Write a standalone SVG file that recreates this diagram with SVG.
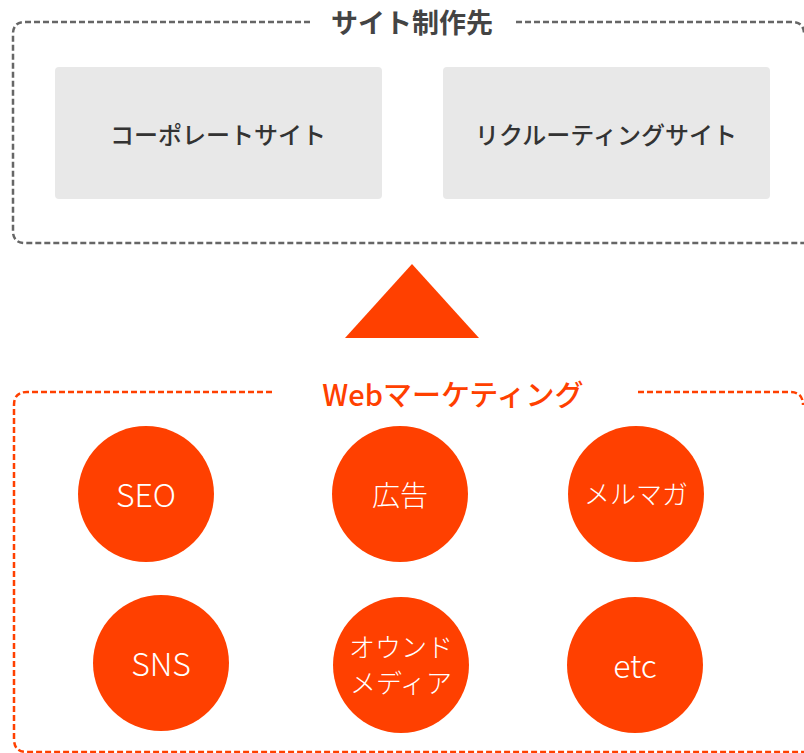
<svg xmlns="http://www.w3.org/2000/svg" width="804" height="753" viewBox="0 0 804 753">
<style>
text{font-family:"Noto Sans CJK JP","Noto Sans",sans-serif;text-anchor:middle;dominant-baseline:central}
.frame-gray{fill:none;stroke:#666;stroke-width:2.5;stroke-dasharray:6 3}
.frame-orange{fill:none;stroke:#ff4000;stroke-width:2.5;stroke-dasharray:6 3}
.gbox{fill:#e8e8e8}
.gtxt{font-size:24px;font-weight:500;fill:#333}
.circ{fill:#ff4000}
.ctxt{font-size:32px;font-weight:300;fill:#fff}
.ctxtj{font-size:28px;font-weight:300;fill:#fff}
.ctxt2{font-size:26px;font-weight:300;fill:#fff}
</style>
<g id="site-frame">
<path class="frame-gray" d="M310 22 H25 Q13 22 13 34 V231 Q13 243 25 243 H804"/>
<path class="frame-gray" d="M516 22 H792 Q804 22 804 34"/>
<text x="412" y="21" font-size="27" font-weight="bold" fill="#444">サイト制作先</text>
</g>
<g id="corporate">
<rect class="gbox" x="55" y="67" width="327" height="132" rx="4"/>
<text class="gtxt" x="218" y="133">コーポレートサイト</text>
</g>
<g id="recruiting">
<rect class="gbox" x="443" y="67" width="327" height="132" rx="4"/>
<text class="gtxt" x="606" y="133">リクルーティングサイト</text>
</g>
<g id="connectors">
<polygon points="345,338 479,338 412,264" fill="#ff4000"/>
</g>
<g id="web-frame">
<path class="frame-orange" d="M272 392 H27 Q14 392 14 405 V739 Q14 752 27 752 H804"/>
<path class="frame-orange" d="M638 392 H790 Q803 392 803 405"/>
<text x="453" y="393" font-size="29" font-weight="500" fill="#ff4000">Webマーケティング</text>
</g>
<g id="seo"><circle class="circ" cx="146" cy="494" r="68"/><text class="ctxt" x="146" y="493">SEO</text></g>
<g id="ad"><circle class="circ" cx="400" cy="494" r="68"/><text class="ctxtj" x="400" y="494">広告</text></g>
<g id="mailmag"><circle class="circ" cx="636" cy="494" r="68"/><text class="ctxt2" x="636" y="492">メルマガ</text></g>
<g id="sns"><circle class="circ" cx="161" cy="663" r="68"/><text class="ctxt" x="161" y="662">SNS</text></g>
<g id="owned"><circle class="circ" cx="401" cy="665" r="68"/><text class="ctxt2" x="401" y="645">オウンド</text><text class="ctxt2" x="401" y="681">メディア</text></g>
<g id="etc"><circle class="circ" cx="635" cy="665" r="68"/><text class="ctxt" x="635" y="664">etc</text></g>
</svg>
